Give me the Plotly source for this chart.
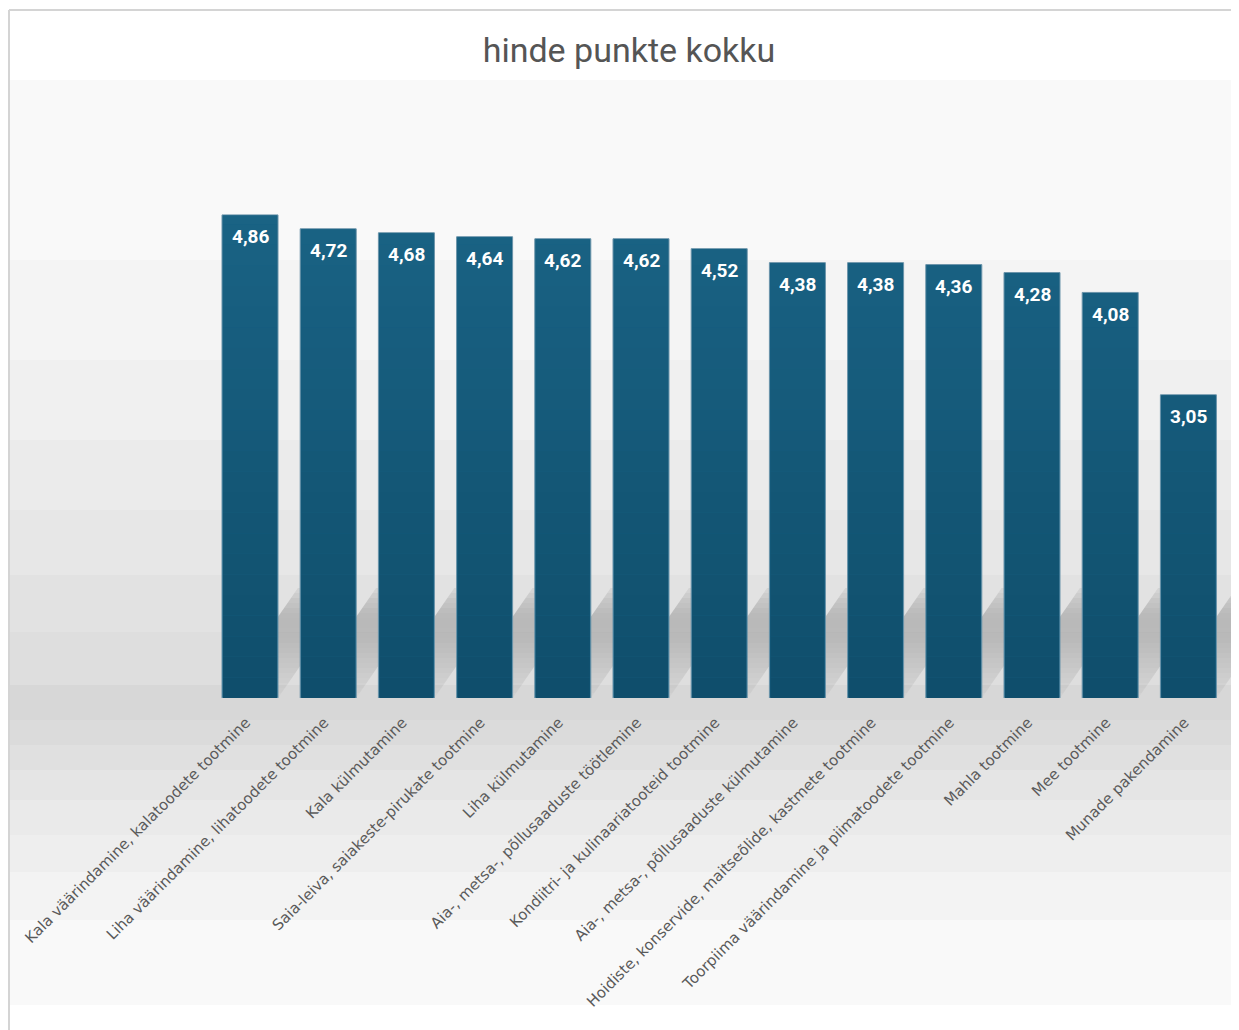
import plotly.graph_objects as go

categories = [
    "Kala väärindamine, kalatoodete tootmine",
    "Liha väärindamine, lihatoodete tootmine",
    "Kala külmutamine",
    "Saia-leiva, saiakeste-pirukate tootmine",
    "Liha külmutamine",
    "Aia-, metsa-, põllusaaduste töötlemine",
    "Kondiitri- ja kulinaariatooteid tootmine",
    "Aia-, metsa-, põllusaaduste külmutamine",
    "Hoidiste, konservide, maitseõlide, kastmete tootmine",
    "Toorpiima väärindamine ja piimatoodete tootmine",
    "Mahla tootmine",
    "Mee tootmine",
    "Munade pakendamine",
]
values = [4.86, 4.72, 4.68, 4.64, 4.62, 4.62, 4.52, 4.38, 4.38, 4.36, 4.28, 4.08, 3.05]

OFF = 8  # page body margin
W, H = 1239 - OFF, 1030 - OFF
BASE = 698  # baseline, in screenshot pixels
TOP = 80    # plot top, in screenshot pixels
LEFT = 10   # plot left, in screenshot pixels
ML, MR, MT = LEFT - OFF, 0, TOP - OFF
MB = H - (BASE - OFF)
plot_h = BASE - TOP
px_per_cat = 78.2
px_per_unit = 99.4
x0 = -(250 - LEFT) / px_per_cat
x1 = x0 + (W - ML - MR) / px_per_cat
ymax = plot_h / px_per_unit

idx = list(range(len(categories)))
labels = [f"{v:.2f}".replace(".", ",") for v in values]

fig = go.Figure()
fig.add_trace(go.Bar(
    x=idx, y=values,
    marker=dict(color="#176082", line=dict(color="#6a93a9", width=1)),
    hoverinfo="skip",
))

shapes = []
def py(p):
    return (BASE - p) / plot_h

bands = [
    (80, 260, "#f9f9f9"), (260, 360, "#f4f4f4"), (360, 440, "#f0f0f0"),
    (440, 510, "#ebebeb"), (510, 575, "#e7e7e7"), (575, 632, "#e2e2e2"),
    (632, 685, "#dedede"), (685, 720, "#d7d7d7"), (720, 745, "#dbdbdb"),
    (745, 770, "#e0e0e0"), (770, 800, "#e5e5e5"), (800, 835, "#eaeaea"),
    (835, 872, "#eeeeee"), (872, 920, "#f3f3f3"), (920, 1005, "#f9f9f9"),
]
for a, b, c in bands:
    shapes.append(dict(type="rect", xref="paper", yref="paper", x0=0, x1=1,
                       y0=py(b), y1=py(a), fillcolor=c, line_width=0, layer="below"))

# soft diagonal shadows cast by the bars
bargap = 0.284
hw = (1 - bargap) / 2
slant = 0.69
prof = [0.05, 0.07, 0.09, 0.11, 0.13, 0.15, 0.17, 0.19, 0.21, 0.23, 0.25, 0.27,
        0.28, 0.29, 0.3, 0.3, 0.29, 0.27, 0.24, 0.2, 0.15, 0.1]
Ht = 110
n = len(prof)
for i in idx:
    for s in range(n):
        h0 = Ht * s / n
        h1 = Ht * (s + 1) / n
        sx0, sx1 = slant * h0 / px_per_cat, slant * h1 / px_per_cat
        y0, y1 = h0 / px_per_unit, h1 / px_per_unit
        path = (f"M {i-hw+sx0} {y0} L {i+hw+sx0} {y0} "
                f"L {i+hw+sx1} {y1} L {i-hw+sx1} {y1} Z")
        shapes.append(dict(type="path", xref="x", yref="y", path=path,
                           fillcolor="rgb(90,90,90)", opacity=prof[s],
                           line_width=0, layer="below"))

# vertical colour gradient on the bars (lighter at top, darker at base)
top_c = (26, 99, 133)
bot_c = (15, 78, 107)
nb = 24
inset = 1.0 / px_per_cat
for i, v in zip(idx, values):
    for k in range(nb):
        lo = ymax * 0.8 * k / nb
        hi = ymax * 0.8 * (k + 1) / nb
        if lo >= v:
            break
        t = (k + 0.5) / nb
        c = tuple(round(bot_c[j] + (top_c[j] - bot_c[j]) * t) for j in range(3))
        shapes.append(dict(type="rect", xref="x", yref="y",
                           x0=i - hw + inset, x1=i + hw - inset,
                           y0=lo, y1=min(hi, v - 0.5 / px_per_unit),
                           fillcolor=f"rgb{c}", line_width=0, layer="above"))

# container border
bx = (OFF + 1 - LEFT) / (W - ML - MR)
shapes.append(dict(type="line", xref="paper", yref="paper", x0=bx, x1=bx,
                   y0=py(1040), y1=py(10), line=dict(color="#d4d4d4", width=2)))
shapes.append(dict(type="line", xref="paper", yref="paper", x0=bx, x1=1,
                   y0=py(10), y1=py(10), line=dict(color="#d4d4d4", width=2)))

annotations = [
    dict(x=i, y=v, xref="x", yref="y", text=f"<b>{t}</b>", showarrow=False,
         yshift=-22, yanchor="middle", xanchor="center",
         font=dict(family="Roboto", size=19, color="white"))
    for i, v, t in zip(idx, values, labels)
]

fig.update_layout(
    width=W, height=H,
    margin=dict(l=ML, r=MR, t=MT, b=MB, pad=0),
    paper_bgcolor="white",
    plot_bgcolor="rgba(0,0,0,0)",
    bargap=bargap,
    showlegend=False,
    title=dict(text="hinde punkte kokku", x=(629 - OFF) / W, xref="container",
               xanchor="center", y=1 - (50 - OFF) / H, yref="container",
               yanchor="middle",
               font=dict(family="Roboto", size=34, color="#555555")),
    xaxis=dict(range=[x0, x1], tickmode="array", tickvals=idx, ticktext=categories,
               tickangle=-45, showgrid=False, zeroline=False, showline=False,
               ticks="", ticklen=0, ticklabelstandoff=12, ticklabelshift=-4,
               tickfont=dict(family="DejaVu Sans", size=15, color="#5a5a5a")),
    yaxis=dict(range=[0, ymax], visible=False, showgrid=False, zeroline=False),
    shapes=shapes,
    annotations=annotations,
)

fig.write_html("out.html")
